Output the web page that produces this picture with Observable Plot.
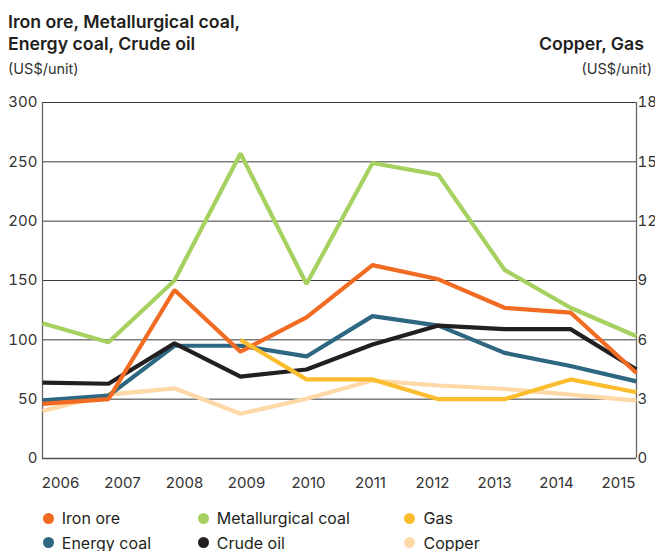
<!DOCTYPE html>
<html>
<head>
<meta charset="utf-8">
<script src="https://cdn.jsdelivr.net/npm/d3@7"></script>
<script src="https://cdn.jsdelivr.net/npm/@observablehq/plot@0.6"></script>
<style>
  body { margin: 0; background: #fff; font-family: Inter, "Open Sans", sans-serif; color: #231f20; }
  #wrap { position: relative; width: 655px; height: 551px; overflow: hidden; background: #fff; }
  .title { position: absolute; font-size: 17.7px; font-weight: 600; line-height: 21.5px; color: #231f20; white-space: nowrap; }
  .unit { position: absolute; font-size: 14.5px; font-weight: 400; color: #333; white-space: nowrap; top: 60px; }
  #main { position: absolute; left: 0; top: 92px; }
  #xlabels { position: absolute; left: 0; top: 470px; }
  #legend { position: absolute; left: 42.8px; top: 508px; display: grid; grid-auto-flow: column;
            grid-template-rows: 24.7px 24.7px; grid-template-columns: 155px 206.7px auto; }
  .item { display: flex; align-items: center; height: 20px; font-size: 16px; line-height: 20px; color: #231f20; white-space: nowrap; }
  .dot { width: 11px; height: 11px; border-radius: 50%; margin-right: 8px; flex: none; }
</style>
</head>
<body>
<div id="wrap">
  <div class="title" style="left:8px; top:11px;">Iron ore, Metallurgical coal,<br>Energy coal, Crude oil</div>
  <div class="unit" style="left:8px;">(US$/unit)</div>
  <div class="title" style="right:11px; top:33px; text-align:right;">Copper, Gas</div>
  <div class="unit" style="right:3px;">(US$/unit)</div>
  <div id="main"></div>
  <div id="xlabels"></div>
  <div id="legend"></div>
</div>
<script>
// ---- data ----
const years = [2006, 2007, 2008, 2009, 2010, 2011, 2012, 2013, 2014, 2015];
const yearLabels = ["2006", "2007", "2008", "2009", "2010", "2011", "2012", "2013", "2014", "2015"];

// left axis (US$/unit)
const ironOre    = [46, 50, 142, 90, 119, 163, 151, 127, 123, 72];
const metCoal    = [114, 98, 150, 257, 147, 249, 239, 159, 127, 103];
const energyCoal = [49, 53, 95, 95, 86, 120, 112, 89, 78, 65];
const crudeOil   = [64, 63, 97, 69, 75, 96, 112, 109, 109, 75];
// right axis (US$/unit)
const gas        = [null, null, null, 6.0, 4.0, 4.0, 3.0, 3.0, 4.0, 3.35];
const copper     = [2.4, 3.23, 3.55, 2.26, 3.02, 3.94, 3.69, 3.52, 3.23, 2.93];

const leftTicks  = [0, 50, 100, 150, 200, 250, 300];
const rightTicks = [0, 3, 6, 9, 12, 15, 18];

const legendNames  = ["Iron ore", "Energy coal", "Metallurgical coal", "Crude oil", "Gas", "Copper"];
const legendColors = ["#f26b23", "#2e6782", "#a6d05f", "#231f20", "#fbbd2e", "#fed8a6"];

// ---- build table (right-axis series converted to left-axis units) ----
const LEFT_MAX = leftTicks[leftTicks.length - 1];
const RIGHT_MAX = rightTicks[rightTicks.length - 1];
const toLeft = v => v * LEFT_MAX / RIGHT_MAX;

const drawOrder = [
  ["Copper", copper, true],
  ["Energy coal", energyCoal, false],
  ["Crude oil", crudeOil, false],
  ["Iron ore", ironOre, false],
  ["Gas", gas, true],
  ["Metallurgical coal", metCoal, false]
];
const table = [];
for (const [name, vals, right] of drawOrder) {
  vals.forEach((v, i) => {
    if (v != null) table.push({ series: name, year: years[i], value: right ? toLeft(v) : v });
  });
}

const chart = Plot.plot({
  width: 655,
  height: 410,
  marginTop: 10,
  marginBottom: 44,
  marginLeft: 42,
  marginRight: 19,
  style: { fontFamily: "Inter, 'Open Sans', sans-serif", fontSize: "15px", color: "#333", background: "transparent", overflow: "visible" },
  x: { domain: [years[0], years[years.length - 1]], axis: null },
  y: { domain: [0, LEFT_MAX], axis: null },
  color: { domain: legendNames, range: legendColors },
  marks: [
    Plot.ruleY(leftTicks, { stroke: "#3a3a3a", strokeWidth: 1 }),
    Plot.ruleX([years[0], years[years.length - 1]], { stroke: "#666", strokeWidth: 1.3 }),
    Plot.ruleY([0], { stroke: "#555", strokeWidth: 1.3 }),
    Plot.line(table, { x: "year", y: "value", z: "series", stroke: "series", strokeWidth: 4.2, strokeLinejoin: "miter", strokeLinecap: "butt" }),
    Plot.axisY(leftTicks, { anchor: "left", tickSize: 0, tickPadding: 5, fontSize: 15, fill: "#333", label: null }),
    Plot.axisY(leftTicks, { anchor: "right", tickSize: 0, tickPadding: 1, fontSize: 15, fill: "#333", label: null,
      tickFormat: d => String(Math.round(d * RIGHT_MAX / LEFT_MAX)) })
  ]
});
document.getElementById("main").appendChild(chart);

const xAxisPlot = Plot.plot({
  width: 655,
  height: 30,
  marginTop: 0,
  marginBottom: 23,
  marginLeft: 58.3,
  marginRight: 34.5,
  style: { fontFamily: "Inter, 'Open Sans', sans-serif", fontSize: "15px", color: "#333", background: "transparent", overflow: "visible" },
  x: { type: "point", domain: yearLabels, padding: 0 },
  marks: [
    Plot.axisX({ tickSize: 0, tickPadding: 0, fontSize: 15, fill: "#333", label: null })
  ]
});
document.getElementById("xlabels").appendChild(xAxisPlot);

// ---- legend ----
const legend = document.getElementById("legend");
legendNames.forEach((name, i) => {
  const item = document.createElement("div");
  item.className = "item";
  const dot = document.createElement("span");
  dot.className = "dot";
  dot.style.background = legendColors[i];
  const txt = document.createElement("span");
  txt.textContent = name;
  item.appendChild(dot);
  item.appendChild(txt);
  legend.appendChild(item);
});
</script>
</body>
</html>
